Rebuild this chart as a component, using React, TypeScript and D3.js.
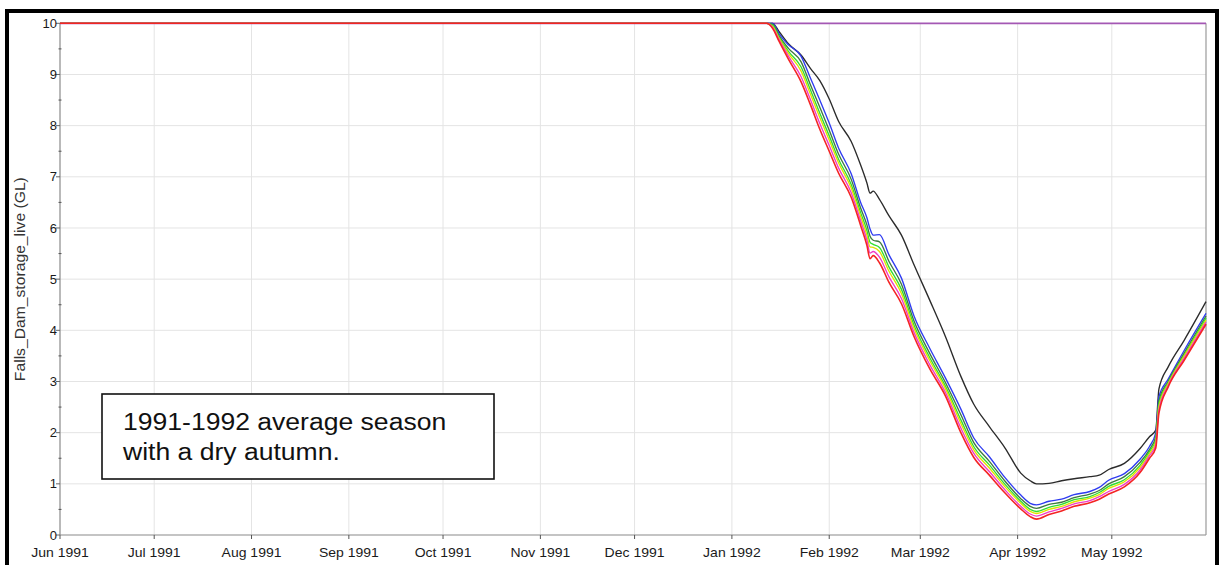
import React, { useEffect } from 'react'
import * as d3 from 'd3'

// sample dates shared by the storage traces
const dates = ['1991-06-01', '1992-01-12', '1992-01-14', '1992-01-16', '1992-01-19', '1992-01-23', '1992-01-26', '1992-01-29', '1992-02-01', '1992-02-04', '1992-02-08', '1992-02-11', '1992-02-13', '1992-02-14', '1992-02-15', '1992-02-17', '1992-02-20', '1992-02-24', '1992-02-28', '1992-03-04', '1992-03-09', '1992-03-14', '1992-03-18', '1992-03-23', '1992-03-28', '1992-04-02', '1992-04-05', '1992-04-07', '1992-04-11', '1992-04-15', '1992-04-19', '1992-04-24', '1992-04-27', '1992-04-30', '1992-05-05', '1992-05-10', '1992-05-13', '1992-05-15', '1992-05-16', '1992-05-19', '1992-05-24', '1992-05-31']

const blackVals = [10, 10, 10, 9.84, 9.6, 9.38, 9.12, 8.88, 8.52, 8.08, 7.69, 7.23, 6.88, 6.68, 6.72, 6.56, 6.24, 5.86, 5.28, 4.59, 3.88, 3.09, 2.56, 2.12, 1.7, 1.21, 1.06, 1.0, 1.01, 1.06, 1.1, 1.14, 1.17, 1.28, 1.4, 1.69, 1.92, 2.05, 2.85, 3.29, 3.8, 4.56]
const blueVals = [10, 10, 10, 9.8, 9.58, 9.36, 8.93, 8.5, 8.05, 7.56, 7.06, 6.5, 6.2, 5.98, 5.86, 5.87, 5.48, 5.02, 4.28, 3.65, 3.07, 2.45, 1.9, 1.53, 1.12, 0.78, 0.62, 0.59, 0.66, 0.7, 0.79, 0.85, 0.93, 1.07, 1.2, 1.48, 1.73, 2.0, 2.7, 3.05, 3.6, 4.33]
const darkGreenVals = [10, 10, 9.98, 9.76, 9.51, 9.25, 8.8, 8.36, 7.91, 7.44, 6.95, 6.39, 6.06, 5.84, 5.76, 5.73, 5.35, 4.9, 4.18, 3.55, 2.98, 2.34, 1.81, 1.44, 1.05, 0.71, 0.56, 0.52, 0.6, 0.64, 0.73, 0.8, 0.87, 1.0, 1.14, 1.42, 1.67, 1.92, 2.62, 3.01, 3.55, 4.28]
const greenVals = [10, 10, 9.96, 9.73, 9.45, 9.15, 8.7, 8.24, 7.8, 7.34, 6.85, 6.3, 5.95, 5.72, 5.68, 5.62, 5.24, 4.8, 4.1, 3.47, 2.91, 2.24, 1.73, 1.37, 0.99, 0.66, 0.5, 0.46, 0.54, 0.6, 0.69, 0.75, 0.83, 0.95, 1.08, 1.36, 1.63, 1.86, 2.56, 2.98, 3.51, 4.24]
const yellowVals = [10, 10, 9.94, 9.71, 9.41, 9.07, 8.62, 8.16, 7.72, 7.27, 6.78, 6.23, 5.86, 5.63, 5.62, 5.54, 5.16, 4.72, 4.04, 3.41, 2.86, 2.17, 1.67, 1.31, 0.94, 0.62, 0.46, 0.42, 0.5, 0.56, 0.65, 0.72, 0.79, 0.91, 1.04, 1.32, 1.59, 1.82, 2.51, 2.96, 3.49, 4.2]
const magentaVals = [10, 10, 9.92, 9.68, 9.36, 8.96, 8.51, 8.04, 7.61, 7.17, 6.69, 6.14, 5.76, 5.51, 5.54, 5.43, 5.05, 4.62, 3.96, 3.33, 2.79, 2.08, 1.6, 1.24, 0.88, 0.56, 0.41, 0.37, 0.45, 0.52, 0.61, 0.67, 0.75, 0.85, 0.99, 1.27, 1.55, 1.76, 2.44, 2.93, 3.45, 4.16]
const redVals = [10, 10, 9.9, 9.65, 9.3, 8.86, 8.41, 7.93, 7.5, 7.07, 6.6, 6.05, 5.66, 5.4, 5.46, 5.32, 4.94, 4.52, 3.88, 3.25, 2.72, 1.99, 1.52, 1.17, 0.82, 0.51, 0.36, 0.31, 0.4, 0.47, 0.56, 0.63, 0.7, 0.8, 0.94, 1.22, 1.5, 1.7, 2.38, 2.9, 3.41, 4.12]

// the full-dam trace never moves off 10
const purpleDates = ['1991-06-01', '1992-05-31']
const purpleVals = [10, 10]

const yTicks = [0, 1, 2, 3, 4, 5, 6, 7, 8, 9, 10]
const yTitle = 'Falls_Dam_storage_live (GL)'
const noteLines = ['1991-1992 average season', 'with a dry autumn.']

const W = 1221
const H = 565
const left = 60
const right = 1206
const top = 23.3
const bottom = 535

const parse = d3.utcParse('%Y-%m-%d')

export default function App() {
  useEffect(() => {
    document.body.style.margin = '0'
  }, [])

  const x = d3.scaleUtc()
    .domain([parse('1991-06-01')!, parse('1992-05-31')!])
    .range([left, right])
  const y = d3.scaleLinear().domain([0, 10]).range([bottom, top])

  const months = d3.utcMonth.range(parse('1991-06-01')!, parse('1992-06-01')!)
  const fmt = d3.utcFormat('%b %Y')
  const minor = d3.range(0.5, 10, 1)

  // monotone keeps the long flat stretch at 10 from bulging
  const line = d3.line<[Date, number]>()
    .x(d => x(d[0]))
    .y(d => y(d[1]))
    .curve(d3.curveMonotoneX)

  const pts = (ds: string[], vs: number[]) => ds.map((d, i) => [parse(d)!, vs[i]] as [Date, number])

  const series = [
    { c: '#a458b4', w: 1.8, v: pts(purpleDates, purpleVals) },
    { c: '#2b2b2b', w: 1.35, v: pts(dates, blackVals) },
    { c: '#2f3cf0', w: 1.35, v: pts(dates, blueVals) },
    { c: '#3f7a3f', w: 1.35, v: pts(dates, darkGreenVals) },
    { c: '#2fe02f', w: 1.35, v: pts(dates, greenVals) },
    { c: '#e0e000', w: 1.35, v: pts(dates, yellowVals) },
    { c: '#f03cc8', w: 1.35, v: pts(dates, magentaVals) },
    { c: '#f42424', w: 1.6, v: pts(dates, redVals) },
  ]

  const font = 'Liberation Sans, Arial, sans-serif'

  return (
    <svg width={W} height={H} style={{ display: 'block', background: '#fff' }} fontFamily={font}>
      {/* grid */}
      {yTicks.slice(1, -1).map(t => (
        <line key={'gy' + t} x1={left} x2={right} y1={y(t)} y2={y(t)} stroke="#e4e4e4" />
      ))}
      {months.slice(1).map(m => (
        <line key={'gx' + m.getTime()} x1={x(m)} x2={x(m)} y1={top} y2={bottom} stroke="#e4e4e4" />
      ))}

      {/* plot frame */}
      <line x1={left} x2={left} y1={top} y2={bottom} stroke="#8a8a8a" strokeWidth={1.2} />
      <line x1={left} x2={right} y1={bottom} y2={bottom} stroke="#8a8a8a" strokeWidth={1.2} />
      <line x1={right} x2={right} y1={top} y2={bottom} stroke="#9a9a9a" strokeWidth={1.2} />

      {/* y ticks */}
      {yTicks.map(t => (
        <g key={'yt' + t}>
          <line x1={left - 4} x2={left} y1={y(t)} y2={y(t)} stroke="#666" />
          <text x={57} y={y(t)} dy="0.35em" textAnchor="end" fontSize={13} fill="#1a1a1a">{t}</text>
        </g>
      ))}
      {minor.map(t => (
        <line key={'ym' + t} x1={left - 1.5} x2={left + 1.5} y1={y(t)} y2={y(t)} stroke="#555" />
      ))}

      {/* x ticks */}
      {months.map(m => (
        <g key={'xt' + m.getTime()}>
          <line x1={x(m)} x2={x(m)} y1={bottom} y2={bottom + 4} stroke="#555" />
          <text transform={`translate(${x(m)},557) scale(1.12,1)`} textAnchor="middle" fontSize={12.5} fill="#1a1a1a">{fmt(m)}</text>
        </g>
      ))}

      <text transform={`translate(25,${(top + bottom) / 2}) rotate(-90)`} textAnchor="middle" fontSize={14} fill="#333"
        textLength={204} lengthAdjust="spacingAndGlyphs">{yTitle}</text>

      {/* traces */}
      {series.map((s, i) => (
        <path key={'s' + i} d={line(s.v) || ''} fill="none" stroke={s.c} strokeWidth={s.w} strokeLinejoin="round" />
      ))}

      {/* note box */}
      <rect x={102} y={394} width={392} height={85} fill="#fff" stroke="#111" strokeWidth={1.6} />
      {noteLines.map((l, i) => (
        <text key={'n' + i} transform={`translate(123,${430 + i * 30}) scale(1.13,1)`} fontSize={23.5} fill="#111">{l}</text>
      ))}

      {/* outer border */}
      <rect x={7} y={11} width={1210} height={600} fill="none" stroke="#000" strokeWidth={4} />
    </svg>
  )
}
